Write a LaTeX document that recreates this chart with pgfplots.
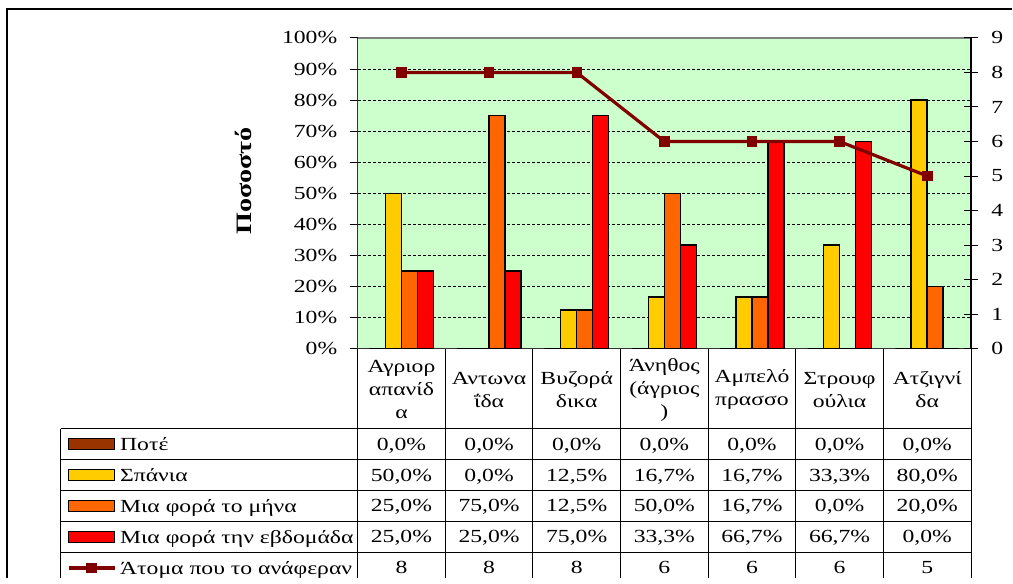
\documentclass[border=0pt]{standalone}
\usepackage{fontspec}
\setmainfont{Liberation Serif}[FakeStretch=1.28]
\usepackage{pgfplots}
\pgfplotsset{compat=1.18}
\definecolor{bggreen}{HTML}{CCFFCC}
\definecolor{cyellow}{HTML}{FFCC00}
\definecolor{corange}{HTML}{FF6600}
\definecolor{cred}{HTML}{FF0000}
\definecolor{cbrown}{HTML}{993300}
\definecolor{cdarkred}{HTML}{800000}
\newcommand{\tf}{\fontsize{9.25}{11.5}\selectfont}
\pgfplotsset{barleg/.style={legend image code/.code={\draw[##1,line width=0.75pt] (0pt,-2.75pt) rectangle (23pt,2.75pt);}},
  lineleg/.style={legend image code/.code={\draw[##1] (0pt,0pt) -- (23pt,0pt); \draw[##1] plot coordinates {(11.5pt,0pt)};}}}
\begin{document}
\begin{tikzpicture}
\begin{scope}[shift={(0pt,289.5pt)},x=0.5pt,y=-0.5pt]
\useasboundingbox (0,0) rectangle (1013,579);
\end{scope}
\begin{axis}[
  at={(179pt,115pt)}, anchor=south west,
  scale only axis, width=307pt, height=155.5pt,
  xmin=-0.5, xmax=6.5, ymin=0, ymax=100,
  axis x line*=bottom, axis y line*=left,
  axis line style={-, line width=0.6pt, black!80},
  xtick=\empty,
  ytick={0,10,...,100},
  yticklabels={0\%,10\%,20\%,30\%,40\%,50\%,60\%,70\%,80\%,90\%,100\%},
  extra y ticks={10,20,30,40,50,60,70,80,90},
  extra y tick labels={},
  extra y tick style={grid=major, major tick length=0pt},
  major grid style={black, line width=0.5pt, dash pattern=on 1.5pt off 1pt},
  axis background/.style={fill=bggreen, draw=gray, line width=0.6pt},
  tick align=outside, major tick length=4pt,
  tick style={black, line width=0.5pt},
  yticklabel style={font=\tf, inner sep=0pt, xshift=-6pt},
  ylabel={\bfseries Ποσοστό},
  ylabel style={at={(axis description cs:-0.187,0.54)}, anchor=center, font=\fontsize{11}{13}\selectfont},
  legend style={at={(-0.4739,-0.2572)}, anchor=north west, draw=none, fill=none, inner sep=0pt, outer sep=0pt, row sep=0pt, column sep=2pt, font=\tf, nodes={inner sep=0pt, text height=11pt, text depth=4.5pt}},
  legend cell align=left,
]
\addplot[ybar, bar width=8pt, bar shift=-12pt, fill=cbrown, draw=black, line width=0.75pt, barleg]
  coordinates {(0,0) (1,0) (2,0) (3,0) (4,0) (5,0) (6,0)};
\addplot[ybar, bar width=8pt, bar shift=-4pt, fill=cyellow, draw=black, line width=0.75pt, barleg]
  coordinates {(0,50) (1,0) (2,12.5) (3,16.7) (4,16.7) (5,33.3) (6,80)};
\addplot[ybar, bar width=8pt, bar shift=4pt, fill=corange, draw=black, line width=0.75pt, barleg]
  coordinates {(0,25) (1,75) (2,12.5) (3,50) (4,16.7) (5,0) (6,20)};
\addplot[ybar, bar width=8pt, bar shift=12pt, fill=cred, draw=black, line width=0.75pt, barleg]
  coordinates {(0,25) (1,25) (2,75) (3,33.3) (4,66.7) (5,66.7) (6,0)};
\addlegendimage{cdarkred, line width=1.6pt, mark=square*, mark size=2.4pt, mark options={solid,line width=0.4pt}, lineleg}
\legend{Ποτέ, Σπάνια, Μια φορά το μήνα, Μια φορά την εβδομάδα, Άτομα που το ανάφεραν}
\end{axis}
\begin{axis}[
  at={(179pt,115pt)}, anchor=south west,
  scale only axis, width=307pt, height=155.5pt,
  xmin=-0.5, xmax=6.5, ymin=0, ymax=9,
  axis y line*=right, axis x line=none,
  axis line style={-, line width=0.6pt, black},
  ytick={0,1,2,3,4,5,6,7,8,9},
  yticklabels={0,1,2,3,4,5,6,7,8,9},
  tick align=center, major tick length=7pt,
  tick style={black, line width=0.5pt},
  yticklabel style={font=\tf, inner sep=0pt, xshift=6.5pt},
]
\addplot[cdarkred, line width=1.6pt, mark=square*, mark size=2.4pt, mark options={solid,line width=0.4pt}]
  coordinates {(0,8) (1,8) (2,8) (3,6) (4,6) (5,6) (6,5)};
\end{axis}
\begin{scope}[shift={(0pt,289.5pt)},x=0.5pt,y=-0.5pt]
\draw[line width=1pt] (7,579) -- (7,9) -- (1013,9);
\foreach \x in {358,445.71,533.43,621.14,708.86,796.57,884.29,972}
  \draw[line width=0.5pt] (\x,349) -- (\x,579);
\draw[line width=0.5pt] (60.7,429) -- (60.7,579);
\foreach \y in {429,460,491,522,553}
  \draw[line width=0.5pt] (60.7,\y) -- (972,\y);
\foreach \t [count=\i from 0] in {{Αγριορ\\απανίδ\\α},{Αντωνα\\ΐδα},{Βυζορά\\δικα},{Άνηθος\\(άγριος\\)},{Αμπελό\\πρασσο},{Στρουφ\\ούλια},{Ατζιγνί\\δα}}
  \node[align=center, anchor=center, inner sep=0pt, font=\tf] at ({358+87.714*(\i+0.5)},390) {\t};
\foreach \v [count=\i from 0] in {{0,0\%},{0,0\%},{0,0\%},{0,0\%},{0,0\%},{0,0\%},{0,0\%}}
  \node[anchor=base, inner sep=0pt, font=\tf] at ({358+87.714*(\i+0.5)},450.5) {\v};
\foreach \v [count=\i from 0] in {{50,0\%},{0,0\%},{12,5\%},{16,7\%},{16,7\%},{33,3\%},{80,0\%}}
  \node[anchor=base, inner sep=0pt, font=\tf] at ({358+87.714*(\i+0.5)},481.5) {\v};
\foreach \v [count=\i from 0] in {{25,0\%},{75,0\%},{12,5\%},{50,0\%},{16,7\%},{0,0\%},{20,0\%}}
  \node[anchor=base, inner sep=0pt, font=\tf] at ({358+87.714*(\i+0.5)},512.5) {\v};
\foreach \v [count=\i from 0] in {{25,0\%},{25,0\%},{75,0\%},{33,3\%},{66,7\%},{66,7\%},{0,0\%}}
  \node[anchor=base, inner sep=0pt, font=\tf] at ({358+87.714*(\i+0.5)},543.5) {\v};
\foreach \v [count=\i from 0] in {8,8,8,6,6,6,5}
  \node[anchor=base, inner sep=0pt, font=\tf] at ({358+87.714*(\i+0.5)},574.5) {\v};
\end{scope}
\end{tikzpicture}
\end{document}
